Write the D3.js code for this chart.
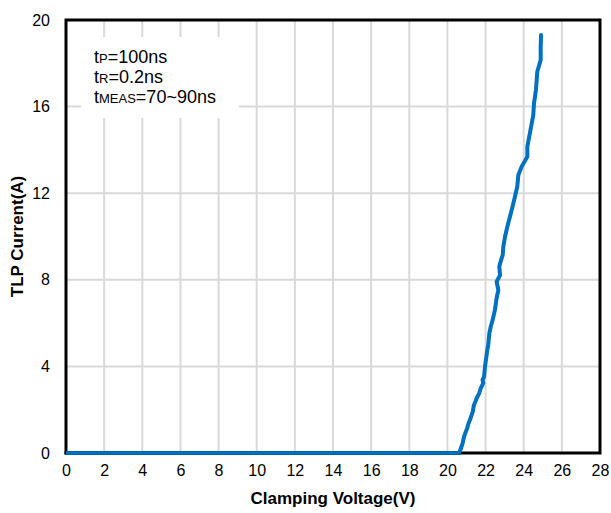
<!DOCTYPE html>
<html>
<head>
<meta charset="utf-8">
<script src="https://cdn.jsdelivr.net/npm/d3@7"></script>
<style>
body { margin: 0; background: #fff; }
text { font-family: Arial, "Liberation Sans", sans-serif; fill: #000; }
</style>
</head>
<body>
<div id="chart"></div>
<script>
// TLP I-V curve
var xTicks = [0,2,4,6,8,10,12,14,16,18,20,22,24,26,28];
var yTicks = [0,4,8,12,16,20];
var voltage = [0, 20.62, 20.74, 20.80, 20.87, 20.95, 21.04, 21.10, 21.18, 21.25, 21.33, 21.39, 21.47, 21.54, 21.67, 21.75, 21.88, 21.84, 21.92, 21.97, 22.02, 22.09,
    22.14, 22.20, 22.27, 22.37, 22.49, 22.58, 22.67, 22.58, 22.76, 22.72, 22.79, 22.90, 22.93, 23.02, 23.14,
    23.37, 23.54, 23.66, 23.72, 23.89, 24.19, 24.19, 24.29, 24.42, 24.50, 24.54, 24.64, 24.68, 24.71, 24.89, 24.89, 24.91];
var current = [0, 0, 0.30, 0.46, 0.75, 0.95, 1.15, 1.35, 1.52, 1.70, 1.91, 2.22, 2.38, 2.54, 2.77, 3.00, 3.23, 3.38, 3.52, 3.99, 4.30, 4.76,
    4.99, 5.54, 5.83, 6.14, 6.61, 7.16, 7.53, 7.91, 8.22, 8.61, 8.84, 9.15, 9.53, 9.99, 10.45,
    11.22, 11.84, 12.30, 12.84, 13.22, 13.69, 14.15, 14.61, 15.23, 15.60, 16.15, 16.77, 17.23, 17.61, 18.15, 18.77, 19.31];
var notes = [["t", "P", "=100ns"], ["t", "R", "=0.2ns"], ["t", "MEAS", "=70~90ns"]];

var w = 611;
var h = 513;
var plotLeft = 66, plotRight = 600, plotTop = 20, plotBottom = 453;

function init()
{
    var xScale = d3.scaleLinear().domain([0, 28]).range([plotLeft, plotRight]);
    var yScale = d3.scaleLinear().domain([0, 20]).range([plotBottom, plotTop]);

    var svg = d3.select("#chart").append("svg").attr("width", w).attr("height", h);

    // grid
    svg.append("g").selectAll("line").data(xTicks.slice(1, -1)).enter().append("line")
        .attr("x1", (d) => xScale(d)).attr("x2", (d) => xScale(d))
        .attr("y1", plotTop).attr("y2", plotBottom)
        .attr("stroke", "#d9d9d9").attr("stroke-width", 2);
    svg.append("g").selectAll("line").data(yTicks.slice(1, -1)).enter().append("line")
        .attr("x1", plotLeft).attr("x2", plotRight)
        .attr("y1", (d) => yScale(d)).attr("y2", (d) => yScale(d))
        .attr("stroke", "#d9d9d9").attr("stroke-width", 2);

    // note box
    svg.append("rect").attr("x", 81).attr("y", 37).attr("width", 158).attr("height", 81).attr("fill", "#fff");
    var note = svg.append("g").selectAll("text").data(notes).enter().append("text")
        .attr("x", 94).attr("y", (d, i) => 63 + i * 20)
        .style("font-size", "18px");
    note.append("tspan").text((d) => d[0]);
    note.append("tspan").style("font-size", "13px").text((d) => d[1]);
    note.append("tspan").text((d) => d[2]);

    // axes
    var xAxis = d3.axisBottom(xScale).tickValues(xTicks).tickSize(0).tickPadding(12);
    var yAxis = d3.axisLeft(yScale).tickValues(yTicks).tickSize(0).tickPadding(16);
    var gx = svg.append("g").attr("transform", "translate(0," + plotBottom + ")").call(xAxis);
    var gy = svg.append("g").attr("transform", "translate(" + plotLeft + ",0)").call(yAxis);
    gx.select(".domain").remove();
    gy.select(".domain").remove();
    gx.selectAll("text").style("font-size", "16px").attr("fill", "#000");
    gy.selectAll("text").style("font-size", "16px").attr("fill", "#000");

    // curve
    var line = d3.line().x((d) => xScale(d[0])).y((d) => yScale(d[1])).curve(d3.curveLinear);
    svg.append("path").datum(d3.zip(voltage, current))
        .attr("d", line)
        .attr("fill", "none").attr("stroke", "#0070c0").attr("stroke-width", 4)
        .attr("stroke-linejoin", "round").attr("stroke-linecap", "round");

    // frame
    svg.append("rect").attr("x", plotLeft).attr("y", plotTop).attr("width", plotRight - plotLeft).attr("height", plotBottom - plotTop)
        .attr("fill", "none").attr("stroke", "#000").attr("stroke-width", 3);
    // flat part sits on top of the bottom frame
    svg.append("path").datum(d3.zip(voltage, current).slice(0, 3))
        .attr("d", line)
        .attr("fill", "none").attr("stroke", "#0070c0").attr("stroke-width", 3.5);

    // titles
    svg.append("text").attr("x", (plotLeft + plotRight) / 2).attr("y", 504).attr("text-anchor", "middle")
        .style("font-size", "17px").style("font-weight", "bold").text("Clamping Voltage(V)");
    svg.append("text").attr("transform", "translate(23," + ((plotTop + plotBottom) / 2) + ") rotate(-90)")
        .attr("text-anchor", "middle")
        .style("font-size", "17px").style("font-weight", "bold").text("TLP Current(A)");
}

window.onload = init;
</script>
</body>
</html>
